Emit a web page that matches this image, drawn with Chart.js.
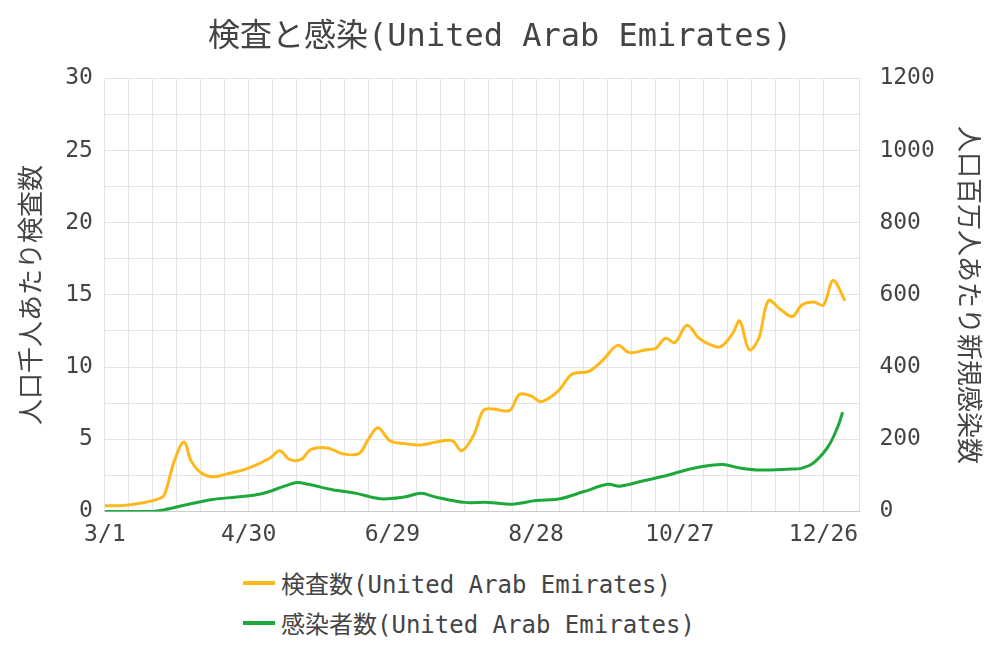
<!DOCTYPE html>
<html><head><meta charset="utf-8">
<script src="https://cdn.jsdelivr.net/npm/chart.js@4"></script>
<style>
body{margin:0;background:#fff;font-family:"DejaVu Sans Mono","Noto Sans CJK JP";}
#wrap{position:relative;width:1000px;height:565px;}
#leg{position:absolute;left:0;top:563px;width:1000px;font-size:24px;color:#444;}
.it{position:absolute;left:243px;display:flex;align-items:center;}
.ln{width:32px;height:4px;margin-right:6px;}
</style></head><body>
<div id="wrap"><canvas id="c" width="1000" height="565"></canvas></div>
<div id="leg">
<div class="it" style="top:2px"><span class="ln" style="background:#FFB81C"></span>検査数(United Arab Emirates)</div>
<div class="it" style="top:42px"><span class="ln" style="background:#1EA83C"></span>感染者数(United Arab Emirates)</div>
</div>
<script>
const testDays=[0,7,16,23,25,29,33,36,40,45,51,60,69,73,77,82,86,93,99,106,110,114,119,125,132,138,145,149,154,158,162,169,173,178,182,189,195,202,208,214,219,226,230,234,238,243,248,252,257,262,265,269,273,277,282,287,291,296,300,304,309];
const testVals=[0.4,0.4,0.6,0.9,1.2,3.5,4.8,3.5,2.7,2.4,2.6,3.0,3.7,4.2,3.6,3.6,4.3,4.4,4.0,4.0,5.0,5.8,4.9,4.7,4.6,4.8,4.9,4.2,5.3,7.0,7.1,7.0,8.1,8.0,7.6,8.3,9.5,9.7,10.5,11.5,11.0,11.2,11.3,12.0,11.7,12.9,12.0,11.6,11.4,12.3,13.2,11.2,12.0,14.6,14.0,13.5,14.3,14.5,14.3,16.0,14.6];
const caseDays=[0,20,25,35,45,55,65,75,80,85,95,105,115,125,132,138,150,160,170,180,190,200,210,215,225,235,240,250,258,265,272,285,291,296,302,306,308];
const caseVals=[0,0,5,20,33,40,48,70,80,75,60,50,35,40,50,40,25,25,20,30,35,55,75,70,85,100,110,125,130,120,115,117,120,135,180,235,275];
const tickDays=[0,60,120,180,240,300];
const start=Date.UTC(2020,2,1);
function lbl(d){const t=new Date(start+d*864e5);return (t.getUTCMonth()+1)+'/'+t.getUTCDate();}
const toXY=(xs,ys)=>xs.map((x,i)=>({x,y:ys[i]}));
const F="'DejaVu Sans Mono','Noto Sans CJK JP'";const C='#444';
new Chart(document.getElementById('c'),{type:'line',
data:{datasets:[
{label:'検査数(United Arab Emirates)',data:toXY(testDays,testVals),borderColor:'#FFB81C',borderWidth:3,pointRadius:0,tension:0.35,yAxisID:'y'},
{label:'感染者数(United Arab Emirates)',data:toXY(caseDays,caseVals),borderColor:'#1EA83C',borderWidth:3,pointRadius:0,tension:0.35,yAxisID:'y2'}]},
options:{responsive:false,animation:false,devicePixelRatio:1,
layout:{padding:{left:14,right:14,top:0,bottom:6}},
plugins:{legend:{display:false},title:{display:true,text:'検査と感染(United Arab Emirates)',color:C,font:{family:F,size:32,weight:'normal'},padding:{top:18,bottom:22}}},
scales:{
x:{type:'linear',min:0,max:315,ticks:{stepSize:10,autoSkip:false,maxRotation:0,padding:10,color:C,font:{family:F,size:23},callback:v=>tickDays.includes(v)?lbl(v):''},grid:{color:'#e4e4e4',drawTicks:false},border:{color:'#ccc'}},
y:{min:0,max:30,ticks:{stepSize:2.5,padding:12,color:C,font:{family:F,size:23},callback:v=>v%5===0?v:''},grid:{color:'#e4e4e4',drawTicks:false},border:{display:false},title:{display:true,text:'人口千人あたり検査数',color:C,font:{family:F,size:26}}},
y2:{position:'right',min:0,max:1200,ticks:{stepSize:100,padding:12,color:C,font:{family:F,size:23},callback:v=>v%200===0?v:''},grid:{display:false},border:{display:false},title:{display:true,text:'人口百万人あたり新規感染数',color:C,font:{family:F,size:26}}}
}}});
</script>
</body></html>
